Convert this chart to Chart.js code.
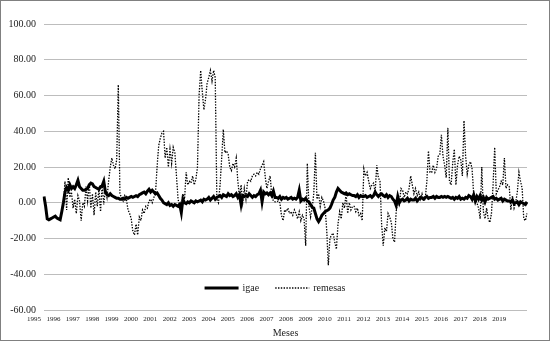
<!DOCTYPE html>
<html><head><meta charset="utf-8">
<script src="https://cdn.jsdelivr.net/npm/chart.js@4/dist/chart.umd.min.js"></script>
<style>html,body{margin:0;padding:0;background:#fff;}</style>
</head><body>
<canvas id="c" width="550" height="341"></canvas>
<script>
// Tick labels (years) and monthly categories
const years = ['1995','1996','1997','1998','1999','2000','2001','2002','2003','2004','2005','2006','2007','2008','2009','2010','2011','2012','2013','2014','2015','2016','2017','2018','2019'];
const monthNames = ['01','02','03','04','05','06','07','08','09','10','11','12'];
const months = years.flatMap(y => monthNames.map(m => y + '-' + m));
const yTicks = [-60, -40, -20, 0, 20, 40, 60, 80, 100];

// Series: igae (annual % change), monthly 1995-2019
const igae = [
  3.5, -2, -9, -9.5, -9, -8.5, -8, -7.5, -8.5, -9, -9.5, -5,
  0, 6, 8.5, 7, 10, 8, 9, 8, 10, 12.5, 9, 8,
  7, 7, 7.5, 8, 10, 11, 10.5, 9, 8.5, 8, 7.5, 9,
  9.5, 12, 6, 4.5, 4, 5, 4, 3.5, 3, 2.5, 2.5, 2,
  2, 2.5, 2, 3, 2.5, 3, 3.5, 3, 3.5, 4, 3.5, 4.5,
  5, 5.5, 6, 5, 6.5, 7.5, 6, 7, 6, 5, 5.5, 4,
  2.5, 1.5, 0, -0.5, -1, 0, -1.5, -1, -2, -1, -1.5, -2,
  -1, -5.5, 2, 0, -0.5, 0.5, 0, 1, 0.5, 0, 1, 0.5,
  1, 1.5, 0.5, 2, 1.5, 2, 3, 1.5, 2.5, 3.5, 2, 3,
  3.5, 4, 3, 4.5, 4, 3.5, 5, 4, 4.5, 3.5, 4, 5,
  3, 4.5, -1, 4, 3.5, 4, 3.5, 5, 4, 3, 4, 3.5,
  4.5, 5, 7, 0.5, 6, 5, 5.5, 4.5, 5.5, 4, 6.5, 3,
  3, 2.5, 3.5, 2, 3, 2.5, 3, 2, 2.5, 3, 2, 2.5,
  2, 3, 7, 1, 2, 1.5, 2.5, 1, 0.5, -1, -2.5, -3,
  -6, -9, -10.5, -9, -7, -6, -5, -4.5, -4, -3, -1, 1.5,
  3, 6, 8, 7, 6, 5.5, 5, 5.5, 4.5, 5, 4.5, 4,
  4, 3.5, 4.5, 3, 4, 3.5, 3.5, 4, 3, 3.5, 4, 3,
  4, 6, 4.5, 3.5, 4.5, 5, 4, 3.5, 4.5, 3, 4, 3.5,
  2, 1, -1.5, 3.5, 0, 1.5, 2, 1, 1.5, 2.5, 1, 2,
  1.5, 1.5, 2.5, 1, 2, 3, 2.5, 2, 3, 3.5, 2.5, 3,
  3, 3.5, 2.5, 3.5, 3, 3, 3.5, 3, 3.5, 3, 3.5, 3,
  2.5, 3, 2, 3, 2.5, 3.5, 2, 2.5, 2, 3, 2.5, 4,
  3.5, 2, 4.5, 1, 3.5, 2, 4, 1.5, 3, 0.5, 3, 2,
  2.5, 3, 3.5, 2, 2.5, 1.5, 2, 2.5, 1, 2, 1.5, 1,
  1, 0.5, 1.5, -0.5, 0, 0.5, -1, 0.5, 0, -0.5, -1, 0.5
];

// Series: remesas (annual % change), monthly, starting 1996
const remesas = [
  null, null, null, null, null, null, null, null, null, null, null, null,
  -2, 12, -4, 14, 3, 6, -3, 2, -6, 4, 1, -10,
  0, -2, 9, 1, 11, -3, 5, -7, 6, -2, 8, -5,
  10, -1, 8, 3, 12, 20, 25, 21, 19, 24, 66, 5,
  3, 1, 4, 2, -4, -6, -9, -16, -18, -12, -18, -8,
  -10, -4, -6, -2, -3, 1, 2, 0, 3, 5, 20, 32,
  36, 39, 40, 25, 31, 20, 30, 22, 31, 28, 15, 2,
  -2, -4, 5, 2, 17, 10, 12, 11, 15, 10, 13, 20,
  60, 74, 62, 52, 58, 67, 70, 74, 68, 74, 70, 2,
  0, 10, 25, 41, 28, 29, 27, 20, 18, 22, 20, 25,
  12, 3, 10, 0, 8, 2, 12, 13, 12, 15, 16, 15,
  17, 16, 19, 21, 23, 14, 8, 12, 15, 4, 1, 0.5,
  0.5, 1, 0, -7, -10, -4, -5, -3, -6, -5, -7, -4,
  -6, -9, -5, -10, -7, -9, -24, 22, -2, -8, -3, 5,
  28, 2, 5, -2, 3, 1, -3, -15, -35, -20, -18, -17,
  -22, -26, -12, -5, -9, 0, -3, 5, -6, 0, -4, -2,
  -2, -5, -3, -7, -6, -10, 19, 15, 17, 12, 8, 10,
  11, 6, 21, 14, 12, -12, -24, -14, -16, -6, -8, -11,
  -20, -22, -5, 2, -1, 8, 7, 3, 6, 5, 8, 15,
  10, 5, 8, 4, 6, 2, 5, 1, 2, 12, 29, 17,
  17, 21, 17, 19, 26, 27, 38, 26, 21, 14, 42, 12,
  10, 22, 30, 10, 21, 26, 24, 15, 46, 26, 16, 21,
  23, 19, 5, 2, 0, -3, -9, 20, -5, -9, -3, -9,
  -11, -6, 10, 31, 5, 7, 9, 12, 10, 25, 8, 10,
  9, -4, 4, -3, 0, 6, 17, 12, 8, -9, -10, -6
];

const FONT = '"Liberation Serif", "Times New Roman", serif';
Chart.defaults.font.family = FONT;
Chart.defaults.color = '#222222';

const frame = {
  id: 'frame',
  afterDraw(chart) {
    const c = chart.ctx;
    c.save();
    c.strokeStyle = '#808080';
    c.lineWidth = 1;
    c.strokeRect(0.5, 0.5, chart.width - 1, chart.height - 1);
    c.restore();
  }
};

const bottomLegend = {
  id: 'bottomLegend',
  afterDraw(chart) {
    const c = chart.ctx;
    c.save();
    c.font = '10px ' + FONT;
    const sample = 34, gap = 4, spacing = 16;
    const items = chart.data.datasets.map(ds => ({ds, w: c.measureText(ds.label).width}));
    const total = items.reduce((s, it) => s + sample + gap + it.w, 0) + spacing * (items.length - 1);
    let x = chart.width / 2 - total / 2;
    const y = 288;
    items.forEach(it => {
      c.beginPath();
      c.strokeStyle = it.ds.borderColor;
      c.lineWidth = it.ds.borderWidth;
      c.setLineDash(it.ds.borderDash || []);
      c.moveTo(x, y);
      c.lineTo(x + sample, y);
      c.stroke();
      c.setLineDash([]);
      c.fillStyle = '#222222';
      c.textBaseline = 'middle';
      c.textAlign = 'left';
      c.fillText(it.ds.label, x + sample + gap, y);
      x += sample + gap + it.w + spacing;
    });
    c.restore();
  }
};

new Chart(document.getElementById('c'), {
  type: 'line',
  data: {
    labels: months,
    datasets: [
      { label: 'igae', data: igae, borderColor: '#000000', borderWidth: 3, pointRadius: 0, tension: 0 },
      { label: 'remesas', data: remesas, borderColor: '#000000', borderWidth: 1.3, borderDash: [1.4, 1.4], pointRadius: 0, tension: 0 }
    ]
  },
  options: {
    responsive: false,
    animation: false,
    layout: { padding: { left: 8, right: 23, top: 24, bottom: 0 } },
    plugins: { legend: { display: false }, tooltip: { enabled: false } },
    scales: {
      x: {
        type: 'category',
        offset: false,
        grid: { display: false, drawTicks: false },
        border: { display: false },
        ticks: {
          autoSkip: false, maxRotation: 0, minRotation: 0, padding: 5,
          font: { size: 7, family: FONT }, color: '#222222', labelOffset: -10,
          callback: function(v) { return months[v].slice(0, 4); }
        },
        afterBuildTicks: s => { s.ticks = s.ticks.filter(t => t.value % 12 === 0); },
        afterFit: s => { s.height = 31; },
        title: { display: true, text: 'Meses', font: { size: 10, family: FONT }, color: '#222222', padding: { top: 0, bottom: 2 } }
      },
      y: {
        min: yTicks[0], max: yTicks[yTicks.length - 1],
        grid: { color: '#bdbdbd', lineWidth: 1, drawTicks: false },
        border: { display: false },
        afterBuildTicks: s => { s.ticks = yTicks.map(v => ({ value: v })); },
        ticks: { padding: 8, font: { size: 10, family: FONT }, color: '#222222', callback: v => v.toFixed(2) },
        afterFit: s => { s.width = 36; }
      }
    }
  },
  plugins: [frame, bottomLegend]
});
</script>
</body></html>
